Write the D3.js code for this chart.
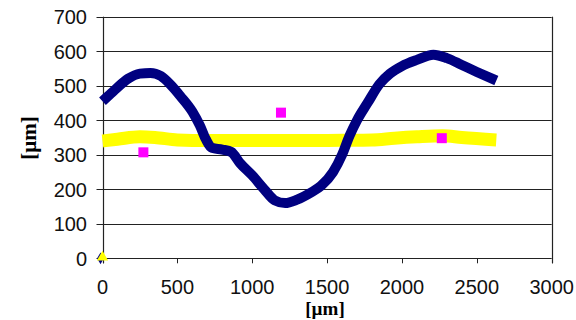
<!DOCTYPE html>
<html>
<head>
<meta charset="utf-8">
<script src="https://cdn.jsdelivr.net/npm/d3@7"></script>
<style>
    body { margin: 0; background: #fff; }
    svg { display: block; }
</style>
</head>
<body>
<div id="chart"></div>
<script>

// profile measured along the sample (x in um, y in um)
var profileX = [0, 50, 100, 170, 250, 320, 390, 450, 520, 600, 650, 690, 730, 800, 860, 920, 1000, 1080, 1150, 1220, 1300, 1390, 1460, 1540, 1600, 1650, 1700, 1770, 1850, 1920, 2000, 2100, 2210, 2300, 2400, 2500, 2630];
var profileY = [455, 475, 495, 520, 535, 537, 528, 505, 470, 425, 385, 345, 320, 315, 308, 275, 240, 200, 168, 160, 170, 190, 210, 250, 300, 355, 400, 450, 505, 535, 557, 575, 590, 580, 560, 540, 515];

// reference level
var levelX = [0, 100, 250, 350, 500, 700, 1000, 1300, 1600, 1800, 1950, 2100, 2270, 2400, 2630];
var levelY = [340, 345, 352, 350, 343, 341, 341, 341, 342, 343, 348, 352, 355, 350, 343];

// single control points
var pointsX = [273, 1192, 2266];
var pointsY = [307, 422, 348];

var xTicks = [0, 500, 1000, 1500, 2000, 2500, 3000];
var yTicks = [0, 100, 200, 300, 400, 500, 600, 700];

var width = 576,
    height = 320;
var margin = {top: 16.7, right: 24.3, bottom: 61.7, left: 102.5};

var svg = d3.select('#chart').append('svg')
    .attr('width', width)
    .attr('height', height);

var x = d3.scaleLinear().domain([0, 3000]).range([margin.left, width - margin.right]);
var y = d3.scaleLinear().domain([0, 700]).range([height - margin.bottom, margin.top]);

// horizontal gridlines, they also make the left tick marks
svg.selectAll('.grid')
    .data(yTicks)
    .enter()
    .append('line')
    .attr('class', 'grid')
    .attr('x1', x(0) - 6)
    .attr('x2', x(3000))
    .attr('y1', function(d) { return Math.round(y(d)) + 0.5; })
    .attr('y2', function(d) { return Math.round(y(d)) + 0.5; })
    .style('stroke', '#222')
    .style('stroke-width', 1);

// left axis and right border
[0, 3000].forEach(function(v) {
    svg.append('line')
        .attr('x1', Math.round(x(v)) + 0.5)
        .attr('x2', Math.round(x(v)) + 0.5)
        .attr('y1', y(700))
        .attr('y2', y(0) + 5)
        .style('stroke', '#222')
        .style('stroke-width', 1.2);
});

// bottom tick marks
svg.selectAll('.xtick')
    .data(xTicks)
    .enter()
    .append('line')
    .attr('class', 'xtick')
    .attr('x1', function(d) { return Math.round(x(d)) + 0.5; })
    .attr('x2', function(d) { return Math.round(x(d)) + 0.5; })
    .attr('y1', y(0))
    .attr('y2', y(0) + 5)
    .style('stroke', '#222');

// tick labels
svg.selectAll('.ylabel')
    .data(yTicks)
    .enter()
    .append('text')
    .attr('class', 'ylabel')
    .attr('x', 87)
    .attr('y', function(d) { return y(d) + 7.5; })
    .attr('text-anchor', 'end')
    .style('font-family', '"Liberation Sans", Arial, sans-serif')
    .style('font-size', '20px')
    .style('fill', '#111')
    .text(function(d) { return d; });

svg.selectAll('.xlabel')
    .data(xTicks)
    .enter()
    .append('text')
    .attr('class', 'xlabel')
    .attr('x', function(d) { return x(d); })
    .attr('y', 294)
    .attr('text-anchor', 'middle')
    .style('font-family', '"Liberation Sans", Arial, sans-serif')
    .style('font-size', '20px')
    .style('fill', '#111')
    .text(function(d) { return d; });

// axis titles
svg.append('text')
    .attr('x', 325)
    .attr('y', 315)
    .attr('text-anchor', 'middle')
    .style('font-family', '"Liberation Serif", "Times New Roman", serif')
    .style('font-size', '19px')
    .style('font-weight', 'bold')
    .text('[\u00b5m]');

svg.append('text')
    .attr('transform', 'translate(36,138) rotate(-90)')
    .attr('text-anchor', 'middle')
    .style('font-family', '"Liberation Serif", "Times New Roman", serif')
    .style('font-size', '21px')
    .style('font-weight', 'bold')
    .text('[\u00b5m]');

var line = d3.line()
    .x(function(d) { return x(d[0]); })
    .y(function(d) { return y(d[1]); })
    .curve(d3.curveMonotoneX);

// yellow reference band
svg.append('path')
    .datum(d3.zip(levelX, levelY))
    .attr('d', line)
    .style('fill', 'none')
    .style('stroke', '#ffff00')
    .style('stroke-width', 13)
    .style('stroke-linejoin', 'round');

// blue profile band
svg.append('path')
    .datum(d3.zip(profileX, profileY))
    .attr('d', line)
    .style('fill', 'none')
    .style('stroke', '#000080')
    .style('stroke-width', 10)
    .style('stroke-linejoin', 'round');

// magenta squares
svg.selectAll('.point')
    .data(d3.zip(pointsX, pointsY))
    .enter()
    .append('rect')
    .attr('class', 'point')
    .attr('x', function(d) { return x(d[0]) - 5; })
    .attr('y', function(d) { return y(d[1]) - 5; })
    .attr('width', 10)
    .attr('height', 10)
    .style('fill', '#ff00ff');

// markers sitting at the origin
svg.append('path')
    .attr('d', d3.symbol().type(d3.symbolDiamond).size(40))
    .attr('transform', 'translate(' + (x(0) - 2) + ',' + y(0) + ')')
    .style('fill', '#000080');

svg.append('path')
    .attr('d', d3.symbol().type(d3.symbolTriangle).size(55))
    .attr('transform', 'translate(' + x(0) + ',' + (y(0) - 1) + ')')
    .style('fill', '#ffff00');

</script>
</body>
</html>
